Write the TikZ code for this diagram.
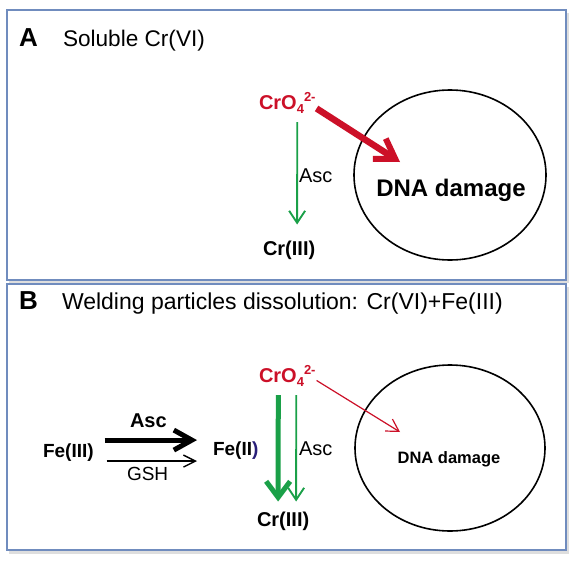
\documentclass[tikz,border=0pt]{standalone}
\usepackage{fontspec}
\setmainfont{Liberation Sans}
\usetikzlibrary{arrows.meta}
\definecolor{framec}{RGB}{112,140,190}
\definecolor{crred}{RGB}{204,16,40}
\definecolor{crgreen}{RGB}{26,160,72}
\definecolor{navyc}{RGB}{40,30,120}
\newcommand\myfs[1]{\fontsize{#1}{#1}\selectfont}
\newcommand\cro{CrO{\myfs{13}\raisebox{-4pt}{4}\raisebox{8pt}{2-}}}
\begin{document}
\begin{tikzpicture}[x=1pt,y=-1pt,
  txt/.style={inner sep=0pt,outer sep=0pt,anchor=base west},
  panel/.style={draw=framec,line width=1.3pt,fill=white},
  shadowbox/.style={fill=black!13},
  greenthin/.style={draw=crgreen,line width=1.9pt,-{Straight Barb[length=12pt,width=16pt,line width=1.9pt]}},
  greenthick/.style={draw=crgreen,line width=5pt,-{Straight Barb[length=16pt,width=24pt,line width=5pt]}},
  redthick/.style={draw=crred,line width=6.5pt,-{Straight Barb[length=19pt,width=24pt,line width=6pt]}},
  redthin/.style={draw=crred,line width=1.2pt,-{Straight Barb[length=12pt,width=14pt,line width=1.2pt]}},
  blackthick/.style={draw=black,line width=5pt,-{Straight Barb[length=18pt,width=20pt,line width=5pt]}},
  blackthin/.style={draw=black,line width=1.4pt,-{Straight Barb[length=12pt,width=12pt,line width=1.4pt]}}
]
\useasboundingbox (0,0) rectangle (578,562);
\fill[white] (0,0) rectangle (578,562);
% panels
\fill[shadowbox] (9,13) rectangle (569,283);
\fill[shadowbox] (9,287) rectangle (569,554);
\draw[panel] (7,10) rectangle (566,280);
\draw[panel] (7,284) rectangle (566,550);
% Panel A
\node[txt] (lblA) at (19,46) {\myfs{26}\bfseries A};
\node[txt] (titA) at (63,46) {\myfs{22.6}Soluble Cr(VI)};
\node[txt,text=crred] (cro4a) at (259,109) {\myfs{20}\bfseries\cro};
\node[txt] (cr3a) at (263,255) {\myfs{20}\bfseries Cr(III)};
\node[txt] (asca) at (299,182) {\myfs{20}Asc};
\draw[line width=1.6pt] (450,175) ellipse [x radius=96, y radius=85];
\node[txt,anchor=base] (dnatA) at (451,196) {\myfs{24}\bfseries DNA damage};
\coordinate (hitA) at (400,162);
\draw[greenthin] ([shift={(10,9)}]cro4a.south) -- ([shift={(8,-16)}]cr3a.north);
\draw[redthick] ([shift={(1,6)}]cro4a.east) -- (hitA);
% Panel B
\node[txt] (lblB) at (19,309) {\myfs{26}\bfseries B};
\node[txt] (titB) at (62,309) {\myfs{23}Welding particles dissolution: Cr(VI)+Fe(III)};
\node[txt,text=crred] (cro4b) at (259,382) {\myfs{20}\bfseries\cro};
\node[txt] (fe3) at (43,457) {\myfs{19}\bfseries Fe(III)};
\node[txt] (fe2) at (213,455) {\myfs{19}\bfseries Fe(II\textcolor{navyc}{)}};
\node[txt] (ascb) at (299,455) {\myfs{20}Asc};
\node[txt] (ascbold) at (130,427) {\myfs{20}\bfseries Asc};
\node[txt] (gsh) at (127,480) {\myfs{19}GSH};
\node[txt] (cr3b) at (257,526) {\myfs{20}\bfseries Cr(III)};
\draw[line width=1.6pt] (450,448) ellipse [x radius=95, y radius=83];
\node[txt,anchor=base] (dnatB) at (449,463) {\myfs{16.5}\bfseries DNA damage};
\coordinate (hitB) at (400,432);
\draw[greenthick] ([shift={(-9,9)}]cro4b.south) -- ([shift={(-5,-10)}]cr3b.north);
\draw[greenthin] ([shift={(9,9)}]cro4b.south) -- ([shift={(13,-10)}]cr3b.north);
\draw[redthin] ([shift={(1,5)}]cro4b.east) -- (hitB);
\draw[blackthick] ([shift={(11,-12)}]fe3.east) -- ([shift={(-16,-10)}]fe2.west);
\draw[blackthin] ([shift={(13,9)}]fe3.east) -- ([shift={(-16,11)}]fe2.west);
\end{tikzpicture}
\end{document}
